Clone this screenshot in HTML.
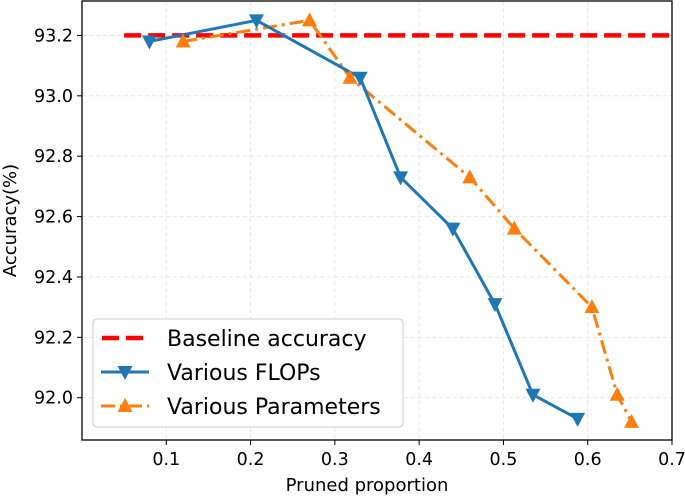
<!DOCTYPE html>
<html><head><meta charset="utf-8"><style>
body{margin:0;background:#fff;}
svg{display:block;font-family:"DejaVu Sans","Liberation Sans",sans-serif;}
</style></head><body>
<svg id="chart" width="685" height="496" viewBox="0 0 685 496"></svg>
<script>
const xTicks=[0.1,0.2,0.3,0.4,0.5,0.6,0.7];
const yTicks=[92.0,92.2,92.4,92.6,92.8,93.0,93.2];
const baselineValue=93.2;
const baselineRange=[0.05,0.7];
const flopsX=[0.08,0.207,0.33,0.378,0.44,0.49,0.535,0.588];
const flopsY=[93.18,93.25,93.06,92.73,92.56,92.31,92.01,91.93];
const paramsX=[0.12,0.27,0.318,0.46,0.513,0.605,0.635,0.652];
const paramsY=[93.18,93.25,93.06,92.73,92.56,92.30,92.01,91.92];

const L=82,R=672,T=1,B=440;
const xMin=0,xMax=0.7,yMin=91.86,yMax=93.314;
const sx=v=>L+(v-xMin)/(xMax-xMin)*(R-L);
const sy=v=>B-(v-yMin)/(yMax-yMin)*(B-T);
const svg=document.getElementById('chart');
const NS='http://www.w3.org/2000/svg';
function mk(tag,attrs,parent){const e=document.createElementNS(NS,tag);for(const k in attrs)e.setAttribute(k,attrs[k]);(parent||svg).appendChild(e);return e;}

xTicks.forEach(t=>{const g=mk('line',{x1:sx(t),x2:sx(t),y1:T,y2:B,stroke:'#e6e6e6','stroke-dasharray':'4,3','stroke-width':1});

});
yTicks.forEach(t=>{const g=mk('line',{x1:L,x2:R,y1:sy(t),y2:sy(t),stroke:'#e6e6e6','stroke-dasharray':'4,3','stroke-width':1});

});

const bl=mk('line',{x1:sx(baselineRange[0]),x2:sx(baselineRange[1]),y1:sy(baselineValue),y2:sy(baselineValue),stroke:'#ff0000','stroke-width':4.5,'stroke-dasharray':'17,7'});



const pp=mk('polyline',{points:paramsX.map((x,i)=>sx(x)+','+sy(paramsY[i])).join(' '),fill:'none',stroke:'#ff7f0e','stroke-width':3,'stroke-dasharray':'14,5,3,5'});


const fp=mk('polyline',{points:flopsX.map((x,i)=>sx(x)+','+sy(flopsY[i])).join(' '),fill:'none',stroke:'#1f77b4','stroke-width':3});



function triUp(cx,cy,c){return mk('polygon',{points:`${cx},${cy-8} ${cx-7.5},${cy+6} ${cx+7.5},${cy+6}`,fill:c});}
function triDown(cx,cy,c){return mk('polygon',{points:`${cx},${cy+8} ${cx-7.5},${cy-6} ${cx+7.5},${cy-6}`,fill:c});}
paramsX.forEach((x,i)=>{const m=triUp(sx(x),sy(paramsY[i]),'#ff7f0e');

});
flopsX.forEach((x,i)=>{const m=triDown(sx(x),sy(flopsY[i]),'#1f77b4');

});

const fr=mk('rect',{x:L,y:T,width:R-L,height:B-T,fill:'none',stroke:'#000','stroke-width':1.3});



xTicks.forEach(t=>{const tk=mk('line',{x1:sx(t),x2:sx(t),y1:B,y2:B+5,stroke:'#000'});


const tx=mk('text',{x:sx(t),y:B+25,'font-size':17.5,'text-anchor':'middle',fill:'#000'});
tx.textContent=t.toFixed(1);

});
yTicks.forEach(t=>{const tk=mk('line',{x1:L-5,x2:L,y1:sy(t),y2:sy(t),stroke:'#000'});


const tx=mk('text',{x:L-9,y:sy(t)+6,'font-size':17.5,'text-anchor':'end',fill:'#000'});
tx.textContent=t.toFixed(1);

});

const xt=mk('text',{x:(L+R)/2-10,y:491,'font-size':18,'text-anchor':'middle'});
xt.textContent='Pruned proportion';


const yt=mk('text',{x:0,y:0,'font-size':18,'text-anchor':'middle',transform:`translate(16,${(T+B)/2}) rotate(-90)`});
yt.textContent='Accuracy(%)';



const lg=mk('g',{});


mk('rect',{x:93,y:319,width:310,height:108,rx:4,fill:'rgba(255,255,255,0.85)',stroke:'#ccc'},lg);
const rows=[338,372,406];
mk('line',{x1:102,x2:147,y1:rows[0],y2:rows[0],stroke:'#ff0000','stroke-width':4.5,'stroke-dasharray':'17,7'},lg);
mk('line',{x1:101,x2:149,y1:rows[1],y2:rows[1],stroke:'#1f77b4','stroke-width':3},lg);
mk('polygon',{points:`125,${rows[1]+8} 117.5,${rows[1]-6} 132.5,${rows[1]-6}`,fill:'#1f77b4'},lg);
mk('line',{x1:101,x2:149,y1:rows[2],y2:rows[2],stroke:'#ff7f0e','stroke-width':3,'stroke-dasharray':'14,5,3,5'},lg);
mk('polygon',{points:`125,${rows[2]-8} 117.5,${rows[2]+6} 132.5,${rows[2]+6}`,fill:'#ff7f0e'},lg);
['Baseline accuracy','Various FLOPs','Various Parameters'].forEach((s,i)=>{
const t=mk('text',{x:167,y:rows[i]+8,'font-size':22,fill:'#000'},lg);t.textContent=s;

});
</script>
</body></html>
